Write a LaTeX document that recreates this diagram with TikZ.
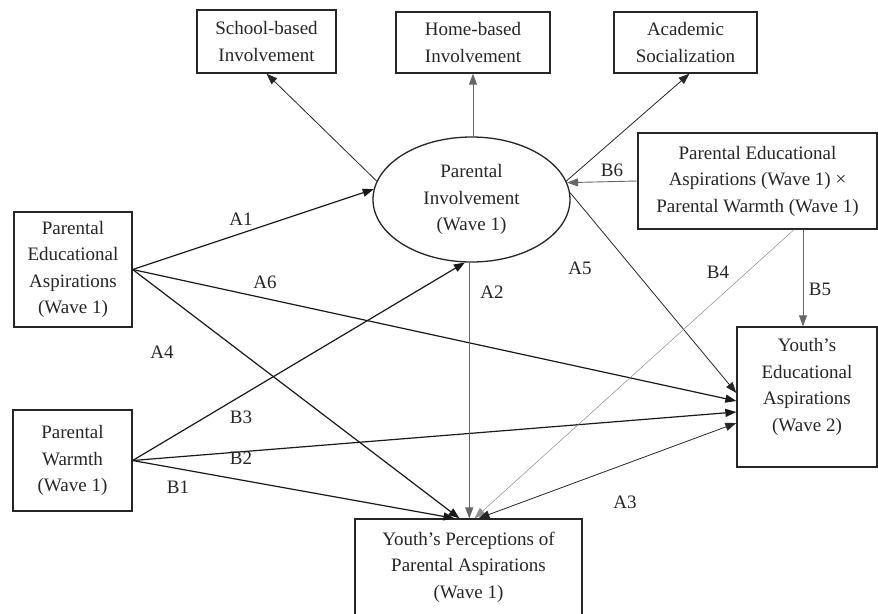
\documentclass[tikz,border=0pt]{standalone}
\usepackage{fontspec}
\setmainfont{Liberation Serif}
\usetikzlibrary{arrows.meta,shapes.geometric,calc}
\begin{document}
\begin{tikzpicture}[x=1pt,y=-1pt,
  font=\fontsize{19}{26.5}\selectfont,
  box/.style={draw=black!85,line width=1.3pt,inner sep=0pt,align=center,text=black!85},
  txt/.style={align=center,inner sep=0pt,text=black!85},
  lab/.style={inner sep=0pt,text=black!85},
  tip/.style={-{Triangle[length=11pt,width=8pt]}},
  dtip/.style={{Triangle[length=11pt,width=8pt]}-{Triangle[length=11pt,width=8pt]}},
  mainln/.style={draw=black!90,line width=1.2pt},
  thinln/.style={draw=black!85,line width=0.8pt},
  grayln/.style={draw=black!60,line width=0.9pt},
  faintln/.style={draw=black!45,line width=0.5pt}]
\useasboundingbox (0,0) rectangle (878,613);
\fill[white] (0,0) rectangle (878,613);

% nodes
\node[box,minimum width=139pt,minimum height=63pt] (school) at (266.5,41.5) {School-based\\Involvement};
\node[box,minimum width=154pt,minimum height=61pt] (home) at (473,42.5) {Home-based\\Involvement};
\node[box,minimum width=143pt,minimum height=61pt] (acad) at (685.5,42.5) {Academic\\Socialization};
\node[box,ellipse,minimum width=197pt,minimum height=125pt] (ell) at (471.5,199.5) {Parental\\Involvement\\(Wave 1)};
\node[box,minimum width=239pt,minimum height=96pt] (rb) at (757.5,181) {Parental Educational\\Aspirations (Wave 1) ×\\Parental Warmth (Wave 1)};
\node[box,minimum width=118pt,minimum height=115pt] (pea) at (73,269.5) {Parental\\Educational\\Aspirations\\(Wave 1)};
\node[box,minimum width=119pt,minimum height=101pt] (warm) at (72.5,460.5) {Parental\\Warmth\\(Wave 1)};
\node[box,minimum width=140pt,minimum height=140pt] (yea) at (807,397) {};
\node[txt] (yeatext) at (807,387) {Youth’s\\Educational\\Aspirations\\(Wave 2)};
\node[box,minimum width=227pt,minimum height=96pt] (ypp) at (468.5,567) {Youth’s Perceptions of\\Parental Aspirations\\(Wave 1)};

% connectors
\draw[thinln,tip] (ell.169.5) -- (school.south);
\draw[grayln,tip] (home.south |- ell.north) -- (home.south);
\draw[thinln,tip] (ell.11.7) -- ($(acad.south)+(4,0)$);
\draw[grayln,tip] (rb.west) -- (ell.10);

\draw[mainln,tip] (pea.east) -- (ell.174);
\draw[mainln,tip] (pea.east) -- ($(yea.west)+(0,4)$);
\draw[mainln,tip] (pea.east) -- ($(ypp.north)+(-9,0)$);

\draw[mainln,tip] (warm.east) -- (ell.264);
\draw[mainln,tip] (warm.east) -- ($(yea.west)+(0,15)$);
\draw[mainln,tip] (warm.east) -- ($(ypp.north)+(-14,0)$);

\draw[thinln,tip] (ell.4.4) -- ($(yea.west)+(0,-4)$);
\draw[grayln,tip] (ell.268) -- (ell.268 |- ypp.north);

\draw[grayln,tip] ($(rb.south)+(45.5,0)$) -- ($(yea.north)+(-4,0)$);
\draw[faintln,tip] ($(rb.south)+(36.5,0)$) -- ($(ypp.north)+(6,0)$);

\draw[thinln,dtip] ($(ypp.north)+(10,0)$) -- ($(yea.west)+(0,26)$);

% path labels
\node[lab] (lA1) at (241,219) {A1};
\node[lab] (lA6) at (265,282) {A6};
\node[lab] (lA4) at (162,352) {A4};
\node[lab] (lB3) at (241,417) {B3};
\node[lab] (lB2) at (241,458) {B2};
\node[lab] (lB1) at (178,487) {B1};
\node[lab] (lA2) at (492,292) {A2};
\node[lab] (lA5) at (580,268) {A5};
\node[lab] (lB4) at (718,272) {B4};
\node[lab] (lB5) at (820,289) {B5};
\node[lab] (lA3) at (625,502) {A3};
\node[lab] (lB6) at (612,170) {B6};
\end{tikzpicture}
\end{document}
